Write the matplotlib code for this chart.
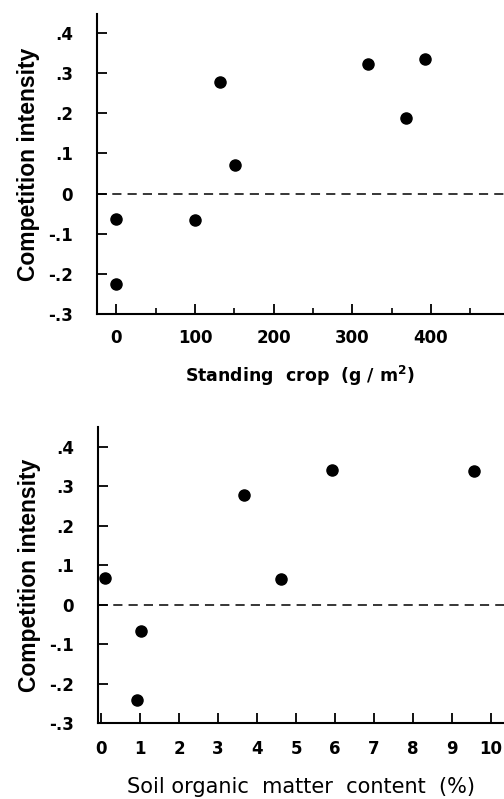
import matplotlib
matplotlib.use("Agg")
import matplotlib.pyplot as plt
from matplotlib.ticker import FixedLocator

plt.rcParams['font.family'] = ['Liberation Sans', 'DejaVu Sans']

# Panel A: standing crop
crop_x = [0, 0, 100, 132, 151, 320, 368, 393]
crop_y = [-0.064, -0.225, -0.066, 0.278, 0.070, 0.323, 0.189, 0.334]

# Panel B: soil organic matter
som_x = [0.1, 1.04, 0.92, 3.66, 4.62, 5.91, 9.56]
som_y = [0.069, -0.065, -0.240, 0.278, 0.066, 0.341, 0.338]

yticks = [-0.3, -0.2, -0.1, 0, 0.1, 0.2, 0.3, 0.4]
ytick_labels = ['-.3', '-.2', '-.1', '0', '.1', '.2', '.3', '.4']
crop_ticks = [0, 100, 200, 300, 400]
crop_tick_labels = ['0', '100', '200', '300', '400']
som_ticks = list(range(0, 11))
som_tick_labels = [str(v) for v in som_ticks]

fig = plt.figure(figsize=(5.04, 7.99), dpi=100)

ax1 = fig.add_axes([0.192, 0.607, 0.808, 0.3755])
ax2 = fig.add_axes([0.194, 0.0947, 0.806, 0.3703])

tickfont = dict(family=['DejaVu Sans'], fontweight='bold', fontsize=12)

def style(ax):
    for s in ['top', 'right']:
        ax.spines[s].set_visible(False)
    for s in ['left', 'bottom']:
        ax.spines[s].set_linewidth(1.5)
    ax.tick_params(axis='both', which='major', direction='in', length=7, width=1.3)
    ax.tick_params(axis='both', which='minor', direction='in', length=4, width=1.2)
    ax.tick_params(axis='y', pad=17)
    ax.axhline(0, color='black', lw=1.1, ls=(0, (6, 4)), zorder=1)
    ax.set_yticks(yticks)
    ax.set_yticklabels(ytick_labels, **tickfont)

# Top panel
style(ax1)
ax1.scatter(crop_x, crop_y, s=64, color='black', zorder=3)
ax1.set_xlim(-25, 493)
ax1.set_ylim(-0.3, 0.447)
ax1.set_xticks(crop_ticks)
ax1.set_xticklabels(crop_tick_labels, **tickfont)
ax1.xaxis.set_minor_locator(FixedLocator([50, 150, 250, 350, 450]))
ax1.tick_params(axis='x', pad=11)
ax1.set_xlabel('Standing  crop  (g / m$^\\mathbf{2}$)', family=['DejaVu Sans'],
               fontsize=12.5, fontweight='bold', labelpad=12)
ax1.set_ylabel('Competition intensity', fontsize=16.5, fontweight='bold', labelpad=6)

# Bottom panel
style(ax2)
ax2.scatter(som_x, som_y, s=64, color='black', zorder=3)
ax2.set_xlim(-0.08, 10.33)
ax2.set_ylim(-0.3, 0.449)
ax2.set_xticks(som_ticks)
ax2.set_xticklabels(som_tick_labels, **tickfont)
ax2.tick_params(axis='x', pad=12)
ax2.set_xlabel('Soil organic  matter  content  (%)', family=['DejaVu Sans'],
               fontsize=15, labelpad=14)
ax2.set_ylabel('Competition intensity', fontsize=16.5, fontweight='bold', labelpad=6)

fig.savefig('out.png', dpi=100)
